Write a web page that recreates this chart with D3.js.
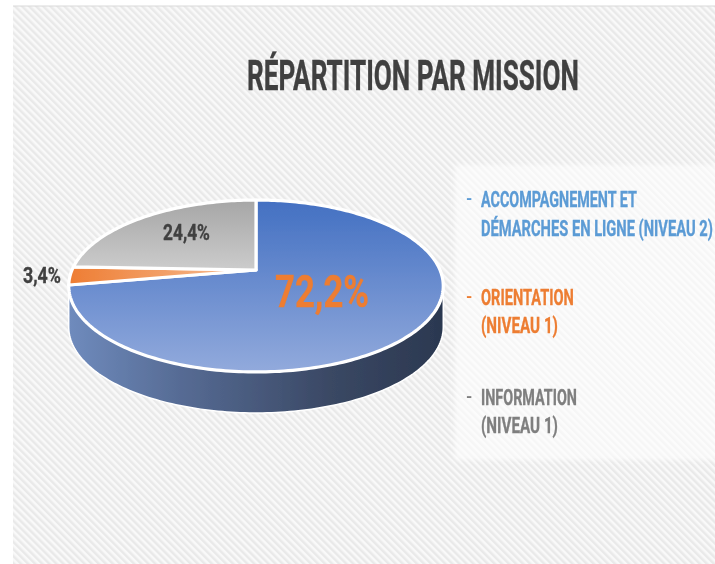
<!DOCTYPE html>
<html lang="fr"><head><meta charset="utf-8">
<script src="https://cdn.jsdelivr.net/npm/d3@7/dist/d3.min.js"></script>
<style>html,body{margin:0;padding:0;background:#fff;overflow:hidden}svg{display:block}
text{font-family:"Roboto","Liberation Sans",sans-serif;font-weight:700}</style></head><body>
<script>
const titleText = "RÉPARTITION PAR MISSION";
const categories = ["Accompagnement et démarches en ligne (niveau 2)", "Orientation (niveau 1)", "Information (niveau 1)"];
const values = [72.2, 3.4, 24.4];
const valueLabels = ["72,2%", "3,4%", "24,4%"];
const legendLines = [["ACCOMPAGNEMENT ET", "DÉMARCHES EN LIGNE (NIVEAU 2)"], ["ORIENTATION", "(NIVEAU 1)"], ["INFORMATION", "(NIVEAU 1)"]];
const legendColors = ["#5b9bd5", "#ed7d31", "#7f7f7f"];

const W = 715, H = 564;
const svg = d3.select("body").append("svg").attr("width", W).attr("height", H);
const defs = svg.append("defs");

const pat = defs.append("pattern").attr("id", "hatch").attr("width", 5).attr("height", 5)
  .attr("patternUnits", "userSpaceOnUse").attr("patternTransform", "rotate(-45)");
pat.append("rect").attr("width", 5).attr("height", 5).attr("fill", "#f9f9f9");
pat.append("rect").attr("width", 2.5).attr("height", 5).attr("fill", "#e9e9e9");

const blur = defs.append("filter").attr("id", "soft").attr("filterUnits", "userSpaceOnUse")
  .attr("x", 0).attr("y", 0).attr("width", W).attr("height", H);
blur.append("feGaussianBlur").attr("stdDeviation", 0.7);
const glow = defs.append("filter").attr("id", "glow").attr("x", "-20%").attr("y", "-30%").attr("width", "140%").attr("height", "160%");
glow.append("feGaussianBlur").attr("stdDeviation", 1.2);
const panelBlur = defs.append("filter").attr("id", "panelBlur").attr("x", "-5%").attr("y", "-5%").attr("width", "110%").attr("height", "110%");
panelBlur.append("feGaussianBlur").attr("stdDeviation", 2);

function grad(id, stops, x2, y2) {
  const g = defs.append("linearGradient").attr("id", id).attr("x1", 0).attr("y1", 0).attr("x2", x2).attr("y2", y2);
  stops.forEach(([o, c]) => g.append("stop").attr("offset", o).attr("stop-color", c));
}
grad("gBlue", [[0, "#4370c2"], [1, "#92aadc"]], 0, 1);
grad("gOrange", [[0, "#ee7d33"], [1, "#f6c09a"]], 1, 0);
grad("gGrey", [[0, "#a6a6a6"], [1, "#cccccc"]], 0, 1);
grad("gSide", [[0, "#6f8bbd"], [0.3, "#566b94"], [0.7, "#3a4864"], [1, "#2b3850"]], 1, 0);
const fills = ["url(#gBlue)", "url(#gOrange)", "url(#gGrey)"];

const root = svg.append("g").attr("filter", "url(#soft)");
root.append("rect").attr("x", 13).attr("y", 6).attr("width", W - 13).attr("height", H - 6).attr("fill", "url(#hatch)");
root.append("line").attr("x1", 13).attr("x2", W).attr("y1", 6).attr("y2", 6).attr("stroke", "#d9d9d9").attr("stroke-width", 1);
root.append("rect").attr("x", 455).attr("y", 165).attr("width", 270).attr("height", 295).attr("fill", "#fff").attr("opacity", 0.6).attr("filter", "url(#panelBlur)");

// Condensed lettering: scale the real text horizontally to its measured width
function fitText(sel, x, y, size, width, color, txt) {
  const t = sel.append("text").attr("font-size", size).attr("fill", color)
    .attr("stroke", color).attr("stroke-width", 0.35).text(txt);
  const natural = t.node().getComputedTextLength();
  return t.attr("transform", `translate(${x},${y}) scale(${width / natural},1)`);
}
fitText(root, 247, 90, 42, 332, "#404040", titleText);

// Perspective projection of the pie plane onto the page
const apex = [256, 270], a = 184, b = 83, k = 0.186, depth = 41;
const proj = t => {
  const u = Math.sin(t), v = Math.cos(t), d = 1 + k * v;
  return [apex[0] + a * u / d, apex[1] - b * v / d];
};
const line = d3.line();
const arcPts = (s, e) => {
  const n = Math.max(2, Math.ceil((e - s) / 0.02));
  return d3.range(n + 1).map(i => proj(s + (e - s) * i / n));
};

const pie = d3.pie().sort(null).startAngle(0).endAngle(2 * Math.PI);
const arcs = pie(values);

// Wall: the visible front rim of the disc
const wallS = Math.acos(-k), wallE = 2 * Math.PI - wallS;
const topRim = arcPts(wallS, wallE);
const botRim = topRim.map(([x, y]) => [x, y + depth]).reverse();
root.append("path").attr("d", line(topRim.concat(botRim)) + "Z").attr("fill", "url(#gSide)").attr("stroke", "#fff").attr("stroke-width", 1.5);

// Top faces
root.selectAll("path.slice").data(arcs).join("path").attr("class", "slice")
  .attr("d", d => line([apex].concat(arcPts(d.startAngle, d.endAngle))) + "Z")
  .attr("fill", (d, i) => fills[i]).attr("stroke", "#fff").attr("stroke-width", 3.2).attr("stroke-linejoin", "round");

// Value labels
const main = [275, 307, 45, 94];
fitText(root, main[0], main[1], main[2], main[3], "#ed7d31", valueLabels[0]);
fitText(root, 23, 283, 22, 38, "#404040", valueLabels[1]);
fitText(root, 163, 240, 22, 47, "#404040", valueLabels[2]);

// Legend
const legendY = [[207, 236], [305, 333], [405, 433]];
const legendW = [[156, 232], [93, 77], [96, 77]];
legendLines.forEach((lines, i) => {
  root.append("text").attr("x", 466).attr("y", legendY[i][0] - 3).attr("font-size", 16).attr("fill", legendColors[i]).text("-");
  lines.forEach((t, j) => fitText(root, 481, legendY[i][j], 22, legendW[i][j], legendColors[i], t));
});
</script></body></html>
